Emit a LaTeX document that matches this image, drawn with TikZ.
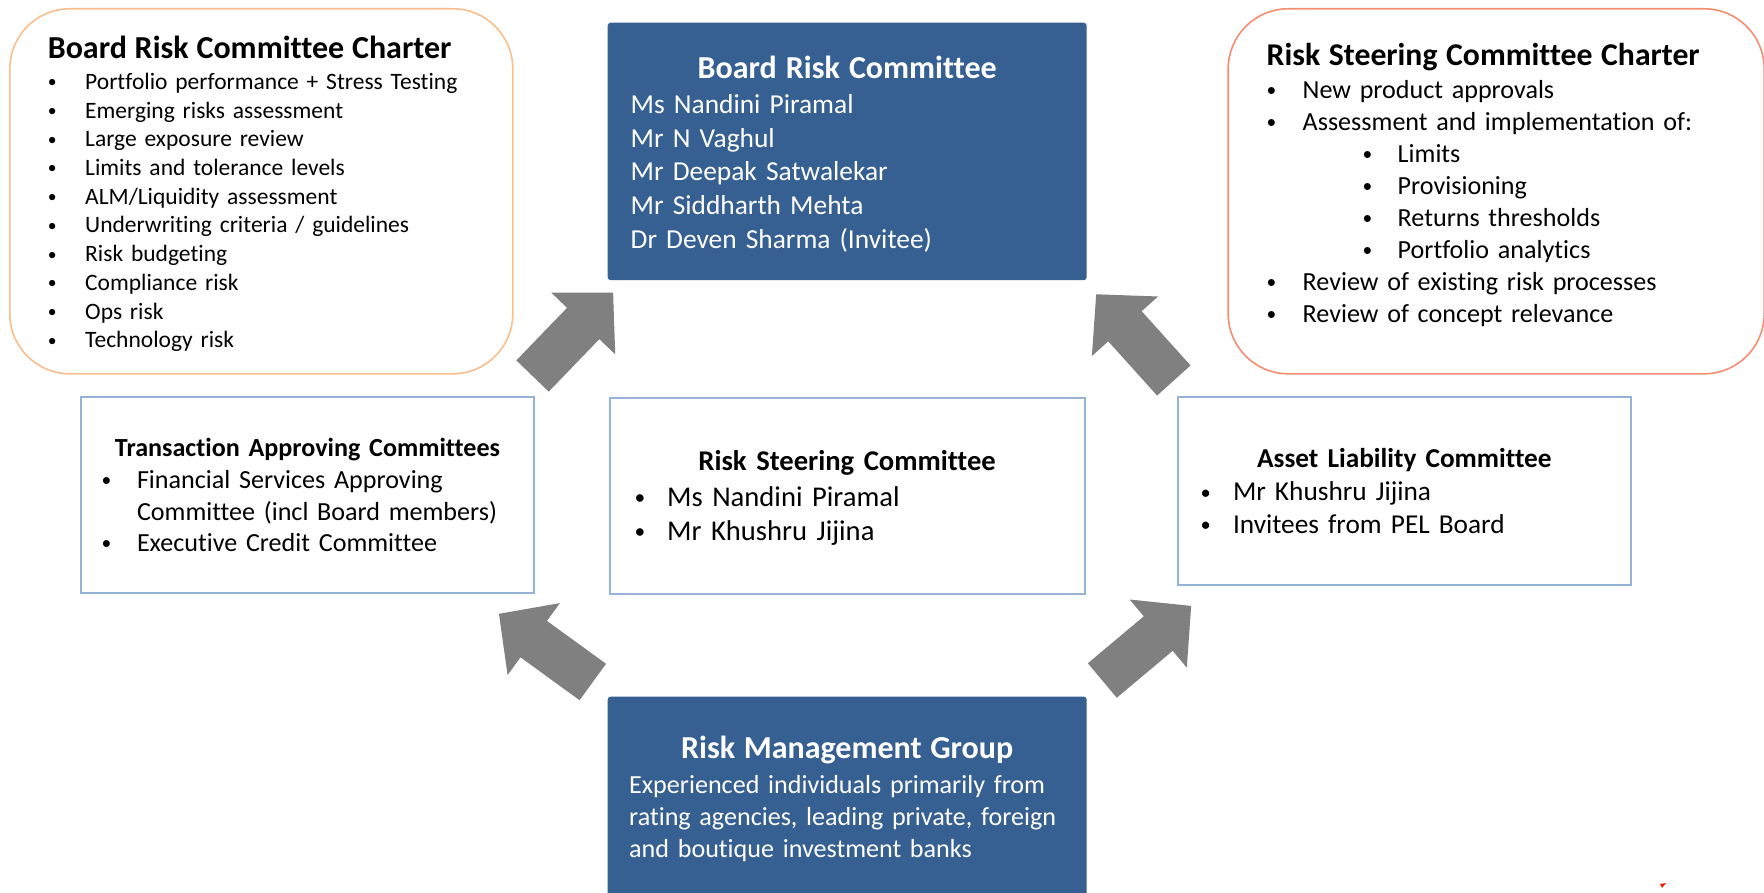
\documentclass[tikz,border=0pt]{standalone}
\usepackage{fontspec}
\usepackage{graphicx}
\setmainfont{Carlito}[Ligatures=NoCommon]
\hyphenpenalty=10000

\definecolor{riskblue}{RGB}{54,96,146}
\definecolor{boxline}{RGB}{149,179,215}
\definecolor{peach}{RGB}{250,190,140}
\definecolor{salmon}{RGB}{246,140,112}
\definecolor{arrowgray}{RGB}{128,128,128}
\newcommand{\bul}[2]{\makebox[#1pt][l]{\raisebox{0.07em}{\scalebox{0.75}{\textbullet}}}#2}
\newcommand{\ctitle}[1]{\makebox[\hsize]{\bfseries #1}}

\begin{document}
\begin{tikzpicture}[x=1pt,y=1pt,
    every node/.style={anchor=north west,align=left,inner ysep=0pt},
    charter/.style={draw,line width=1.6pt,rounded corners=60pt,inner xsep=38pt},
    darkbox/.style={fill=riskblue,rounded corners=3pt,text=white},
    lightbox/.style={draw=boxline,line width=2pt},
    bigarrow/.pic={\fill[arrowgray] (0,-22.5) -- (73,-22.5) -- (73,-44.5) -- (116,0) -- (73,44.5) -- (73,22.5) -- (0,22.5) -- cycle;}]
    \useasboundingbox (0,0) rectangle (1764,-893);
    % charters
    \node [charter,draw=peach,minimum width=503pt,minimum height=365pt,text width=427pt,font=\fontsize{23.5}{28.7}\selectfont] (brcchart) at (9,-8) {{\fontsize{32}{36}\selectfont\bfseries\rule{0pt}{27.5pt}Board Risk Committee Charter}\\[2.5pt]
        \bul{37.4}{Portfolio performance + Stress Testing}\\ \bul{37.4}{Emerging risks assessment}\\ \bul{37.4}{Large exposure review}\\
        \bul{37.4}{Limits and tolerance levels}\\ \bul{37.4}{ALM/Liquidity assessment}\\ \bul{37.4}{Underwriting criteria / guidelines}\\
        \bul{37.4}{Risk budgeting}\\ \bul{37.4}{Compliance risk}\\ \bul{37.4}{Ops risk}\\ \bul{37.4}{Technology risk}};
    \node [charter,draw=salmon,minimum width=536pt,minimum height=365pt,text width=459pt,font=\fontsize{26.1}{32}\selectfont] (rscchart) at (1227.4,-8) {{\fontsize{31.7}{36}\selectfont\bfseries Risk Steering Committee Charter}\\[1pt]
        \bul{36}{New product approvals}\\ \bul{36}{Assessment and implementation of:}\\
        \hspace*{96pt}\bul{35}{Limits}\\ \hspace*{96pt}\bul{35}{Provisioning}\\ \hspace*{96pt}\bul{35}{Returns thresholds}\\ \hspace*{96pt}\bul{35}{Portfolio analytics}\\
        \bul{36}{Review of existing risk processes}\\ \bul{36}{Review of concept relevance}\rule[-17pt]{0pt}{0pt}};
    % committees
    \node [darkbox,minimum width=479pt,minimum height=257.5pt,inner xsep=23pt,text width=433pt,font=\fontsize{27.4}{33.75}\selectfont] (brc) at (607.5,-22.5) {{\fontsize{32}{36}\selectfont\rule{0pt}{28pt}\ctitle{Board Risk Committee}}\\[1pt]
        Ms Nandini Piramal\\ Mr N Vaghul\\ Mr Deepak Satwalekar\\ Mr Siddharth Mehta\\ Dr Deven Sharma (Invitee)};
    \node [lightbox,minimum width=453pt,minimum height=196pt,inner xsep=20.5pt,text width=412pt,font=\fontsize{26.1}{31.5}\selectfont] (tac) at (80,-396) {\ctitle{Transaction Approving Committees}\\[1pt]
        \bul{35.5}{Financial Services Approving}\\ \hspace*{35.5pt}Committee (incl Board members)\\ \bul{35.5}{Executive Credit Committee}};
    \node [lightbox,minimum width=475pt,minimum height=196pt,inner xsep=25pt,text width=425pt,font=\fontsize{28.6}{34.5}\selectfont] (rsc) at (608.6,-397) {\rule{0pt}{24pt}\ctitle{Risk Steering Committee}\\[1.5pt]
        \bul{32.5}{Ms Nandini Piramal}\\ \bul{32.5}{Mr Khushru Jijina}};
    \node [lightbox,minimum width=453pt,minimum height=188pt,inner xsep=22.7pt,text width=407.6pt,font=\fontsize{27.3}{32.6}\selectfont] (alco) at (1176.8,-396) {\ctitle{Asset Liability Committee}\\[1pt]
        \bul{32.5}{Mr Khushru Jijina}\\ \bul{32.5}{Invitees from PEL Board}};
    \node [darkbox,minimum width=479pt,minimum height=202pt,inner xsep=21.5pt,text width=436pt,font=\fontsize{26.1}{32}\selectfont] (rmg) at (607.5,-696.4) {{\fontsize{32}{36}\selectfont\rule{0pt}{25pt}\ctitle{Risk Management Group}}\\[3pt]
        Experienced individuals primarily from\\ rating agencies, leading private, foreign\\ and boutique investment banks};
    % block arrows
    \pic [rotate=46] at (532.5,-376) {bigarrow};
    \pic [rotate=132] at (1173.8,-380.5) {bigarrow};
    \pic [rotate=144] at (592.8,-682) {bigarrow};
    \pic [rotate=40] at (1102.3,-680.5) {bigarrow};
    \fill [red!80!orange] (1660,-884) -- (1666,-883) -- (1662,-888) -- cycle;
\end{tikzpicture}
\end{document}
